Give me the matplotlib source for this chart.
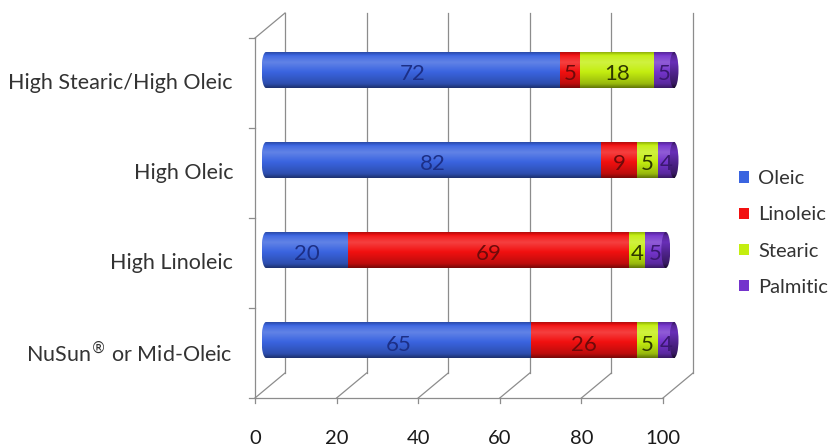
import numpy as np
import matplotlib.pyplot as plt
from matplotlib.patches import Ellipse, Patch
from matplotlib.colors import to_rgb

plt.rcParams['font.family'] = ['Lato', 'DejaVu Sans']

# sunflower oil types, bottom to top
varieties = ['NuSun® or Mid-Oleic', 'High Linoleic', 'High Oleic', 'High Stearic/High Oleic']
acids = ['Oleic', 'Linoleic', 'Stearic', 'Palmitic']
oleic = [65, 20, 82, 72]
linoleic = [26, 69, 9, 5]
stearic = [5, 4, 5, 18]
palmitic = [4, 5, 4, 5]
x_ticks = [0, 20, 40, 60, 80, 100]

colors = ['#3a64e0', '#f21010', '#c4ee10', '#7434cc']
text_colors = ['#1c2f86', '#6e0a0a', '#2f3800', '#3a1870']

W, H = 834, 448
# data units per pixel on the bar plane
UX = 100 / 408
UY = 4 / 360
# offsets of the front and back planes of the box
FX, FY = -11 * UX, -13 * UY
BX, BY = 19 * UX, 12 * UY
grid_c = '#8c8c8c'

fig = plt.figure(figsize=(W / 100, H / 100), dpi=100)
fig.patch.set_facecolor('white')
ax = fig.add_axes([266 / W, (H - 385) / H, 408 / W, 360 / H])
ax.axis('off')

# back wall gridlines, floor lines and x tick labels
for v in x_ticks:
    ax.plot([v + BX, v + BX], [-0.5 + BY, 3.5 + BY], color=grid_c, lw=0.9, clip_on=False, zorder=0)
    ax.plot([v + FX, v + BX], [-0.5 + FY, -0.5 + BY], color=grid_c, lw=0.9, clip_on=False, zorder=0)
    ax.plot([v + FX, v + FX], [-0.5 + FY, -0.5 + FY - 5 * UY], color=grid_c, lw=0.9, clip_on=False)
    ax.text(v + FX, -0.5 + FY - 40 * UY, str(v), ha='center', va='center',
            fontsize=14.5, color='#1a1a1a')

# front floor edge and left wall
ax.plot([FX, 100 + FX], [-0.5 + FY, -0.5 + FY], color=grid_c, lw=0.9, clip_on=False, zorder=0)
ax.plot([FX, FX], [-0.5 + FY, 3.5 + FY], color=grid_c, lw=0.9, clip_on=False, zorder=0)
ax.plot([FX, BX], [3.5 + FY, 3.5 + BY], color=grid_c, lw=0.9, clip_on=False, zorder=0)
for k in range(len(varieties) + 1):
    yk = k - 0.5 + FY
    ax.plot([FX - 6 * UX, FX], [yk, yk], color=grid_c, lw=0.9, clip_on=False)

for i, name in enumerate(varieties):
    # registered sign drawn small and raised
    ax.text(FX - 22 * UX, i + FY, name.replace('®', r'$^{®}$'), ha='right', va='center',
            fontsize=15.5, color='#333333')


def gradient(c, extra=0.0):
    # vertical shading of a lying cylinder, bottom row first
    t = np.linspace(0, 1, 64)
    light = np.interp(t, [0, 0.12, 0.45, 0.72, 0.9, 1], [-0.5, -0.22, 0, 0.2, 0.05, -0.25]) + extra
    c = np.array(to_rgb(c))
    rows = np.where(light[:, None] >= 0,
                    c + (1 - c) * np.clip(light, 0, 1)[:, None],
                    c * (1 + np.clip(light, -1, 0))[:, None])
    return rows[:, None, :]


bar_h = 0.4
cap_w = 1.1
series = [oleic, linoleic, stearic, palmitic]
for i in range(len(varieties)):
    y0, y1 = i - bar_h / 2, i + bar_h / 2
    # rounded left end
    im = ax.imshow(gradient(colors[0]), extent=(-cap_w, 0.5, y0, y1), origin='lower',
                   aspect='auto', interpolation='bilinear', zorder=2)
    im.set_clip_path(Ellipse((0, i), 2 * cap_w, bar_h, transform=ax.transData))
    im.set_clip_box(fig.bbox)
    left = 0
    for s, vals in enumerate(series):
        v = vals[i]
        ax.imshow(gradient(colors[s]), extent=(left, left + v, y0, y1), origin='lower',
                  aspect='auto', interpolation='bilinear', zorder=2)
        ax.text(left + v / 2, i - 0.05, str(v), ha='center', va='center',
                fontsize=16, color=text_colors[s], zorder=4)
        left += v
    # end face of the cylinder
    im = ax.imshow(gradient(colors[-1], -0.3), extent=(left - cap_w, left + cap_w, y0, y1),
                   origin='lower', aspect='auto', interpolation='bilinear', zorder=3)
    im.set_clip_path(Ellipse((left, i), 2 * cap_w, bar_h, transform=ax.transData))
    im.set_clip_box(fig.bbox)

ax.set_xlim(0, 100)
ax.set_ylim(-0.5, 3.5)

handles = [Patch(facecolor=c, edgecolor='none') for c in colors]
fig.legend(handles, acids, loc='center left', bbox_to_anchor=(731 / W, 1 - 233 / H),
           frameon=False, fontsize=14.5, handlelength=0.5, handleheight=0.5,
           handletextpad=0.45, labelspacing=0.95, borderaxespad=0, labelcolor='#333333')

fig.savefig('out.png', dpi=100, facecolor='white')
